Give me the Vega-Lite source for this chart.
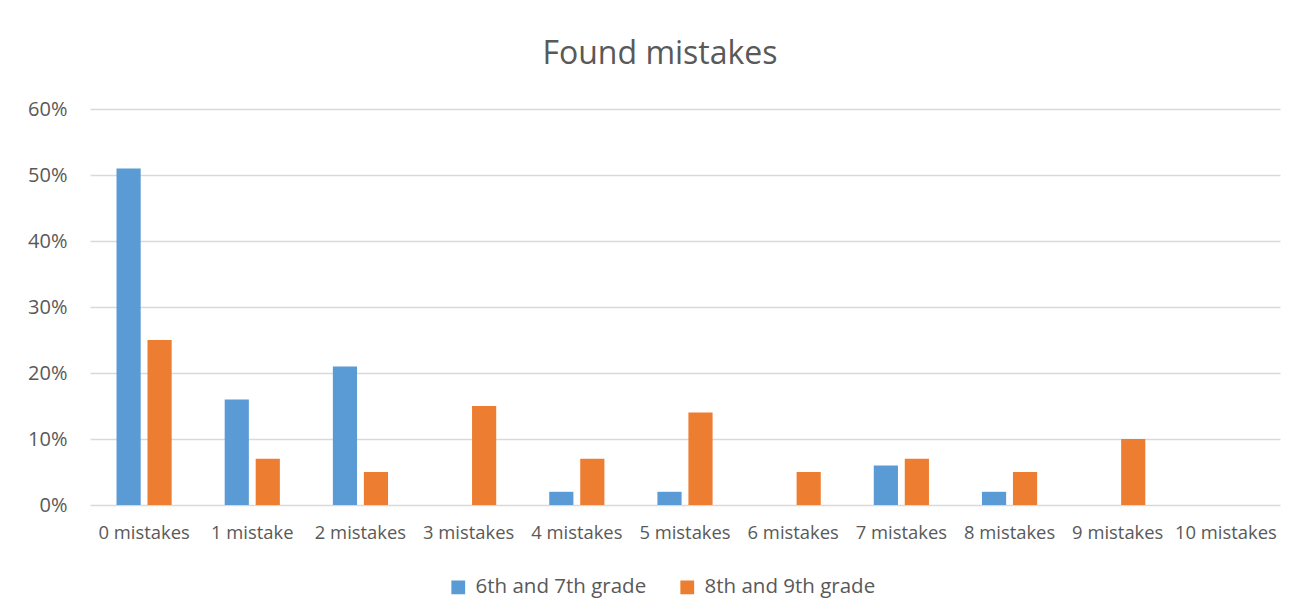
{
  "$schema": "https://vega.github.io/schema/vega-lite/v6.json",
  "autosize": "none",
  "width": 1190,
  "height": 396,
  "padding": {"left": 90, "top": 109, "right": 18, "bottom": 111},
  "background": "white",
  "title": {"text": "Found mistakes", "fontSize": 32, "font": "Open Sans", "fontWeight": "normal", "color": "#595959", "anchor": "middle", "dx": -25, "offset": 28},
  "data": {"values": [
    {"cat": "0 mistakes", "grade": "6th and 7th grade", "v": 0.51},
    {"cat": "0 mistakes", "grade": "8th and 9th grade", "v": 0.25},
    {"cat": "1 mistake", "grade": "6th and 7th grade", "v": 0.16},
    {"cat": "1 mistake", "grade": "8th and 9th grade", "v": 0.07},
    {"cat": "2 mistakes", "grade": "6th and 7th grade", "v": 0.21},
    {"cat": "2 mistakes", "grade": "8th and 9th grade", "v": 0.05},
    {"cat": "3 mistakes", "grade": "6th and 7th grade", "v": 0},
    {"cat": "3 mistakes", "grade": "8th and 9th grade", "v": 0.15},
    {"cat": "4 mistakes", "grade": "6th and 7th grade", "v": 0.02},
    {"cat": "4 mistakes", "grade": "8th and 9th grade", "v": 0.07},
    {"cat": "5 mistakes", "grade": "6th and 7th grade", "v": 0.02},
    {"cat": "5 mistakes", "grade": "8th and 9th grade", "v": 0.14},
    {"cat": "6 mistakes", "grade": "6th and 7th grade", "v": 0},
    {"cat": "6 mistakes", "grade": "8th and 9th grade", "v": 0.05},
    {"cat": "7 mistakes", "grade": "6th and 7th grade", "v": 0.06},
    {"cat": "7 mistakes", "grade": "8th and 9th grade", "v": 0.07},
    {"cat": "8 mistakes", "grade": "6th and 7th grade", "v": 0.02},
    {"cat": "8 mistakes", "grade": "8th and 9th grade", "v": 0.05},
    {"cat": "9 mistakes", "grade": "6th and 7th grade", "v": 0},
    {"cat": "9 mistakes", "grade": "8th and 9th grade", "v": 0.10},
    {"cat": "10 mistakes", "grade": "6th and 7th grade", "v": 0},
    {"cat": "10 mistakes", "grade": "8th and 9th grade", "v": 0}
  ]},
  "mark": {"type": "bar"},
  "encoding": {
    "x": {"field": "cat", "type": "nominal", "sort": null,
      "scale": {"paddingInner": 0.49, "paddingOuter": 0.245},
      "axis": {"title": null, "labelAngle": 0, "domain": false, "ticks": false, "labelPadding": 18, "labelFontSize": 18.4, "labelFont": "Open Sans", "labelColor": "#595959", "labelLimit": 0}},
    "xOffset": {"field": "grade", "type": "nominal", "scale": {"paddingInner": 0.22}},
    "y": {"field": "v", "type": "quantitative",
      "scale": {"domain": [0, 0.6]},
      "axis": {"title": null, "format": ".0%", "values": [0, 0.1, 0.2, 0.3, 0.4, 0.5, 0.6], "domain": false, "ticks": false, "labelPadding": 23, "labelFontSize": 20, "labelFont": "Open Sans", "labelColor": "#595959", "gridColor": "#d9d9d9", "gridWidth": 1.3}},
    "color": {"field": "grade", "type": "nominal",
      "scale": {"domain": ["6th and 7th grade", "8th and 9th grade"], "range": ["#5B9BD5", "#ED7D31"]},
      "legend": {"title": null, "orient": "none", "legendX": 358, "legendY": 468, "direction": "horizontal", "symbolType": "square", "symbolSize": 190, "symbolStrokeWidth": 0, "labelOffset": 7, "labelFontSize": 20.5, "labelFont": "Open Sans", "labelColor": "#595959", "labelLimit": 0, "columnPadding": 30}}
  },
  "config": {"view": {"stroke": null}}
}
